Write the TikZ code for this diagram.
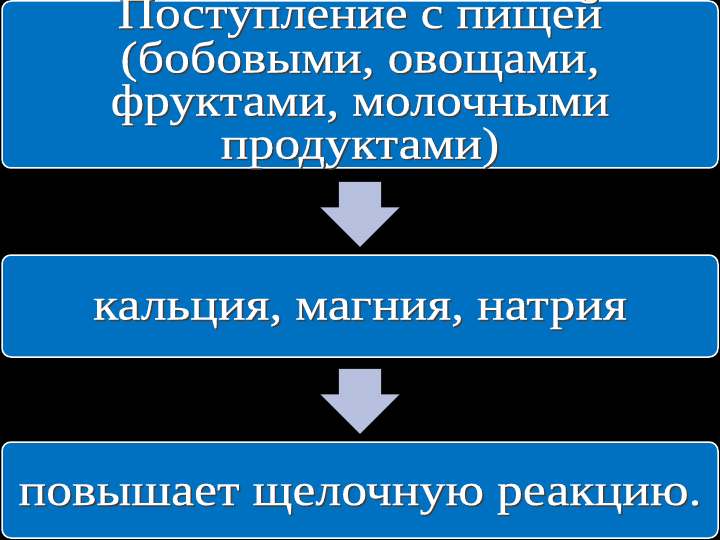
\documentclass[tikz,border=0pt]{standalone}
\usepackage{fontspec}
\setmainfont[FakeStretch=1.15,FakeBold=0.4]{Liberation Serif}
\usetikzlibrary{positioning,shapes.arrows}
\definecolor{boxblue}{RGB}{0,112,192}
\definecolor{arrowgray}{RGB}{182,192,222}
\newcommand\shadowed[1]{%
    \leavevmode\rlap{\kern1.5pt\raisebox{-1.5pt}{\color{black!75}#1}}#1%
}
\tikzset{
    stagebox/.style={draw=white, line width=1.5pt, fill=boxblue, rounded corners=9pt,
        minimum width=716pt, inner sep=0pt},
    stagetext/.style={text=white, align=center, inner sep=0pt,
        font=\fontsize{45}{43}\selectfont},
    downarrow/.style={single arrow, fill=arrowgray, draw=none, shape border rotate=270,
        inner sep=21pt, single arrow head extend=18.5pt, minimum height=65pt}
}

\begin{document}
\begin{tikzpicture}[x=1pt,y=-1pt]
\fill[black] (0,0) rectangle (720,540); % background
\useasboundingbox (0,0) rectangle (720,540);
\node[stagebox, minimum height=167pt] (food) at (360,84.5) {};
\node[stagetext, yshift=1pt] (foodtext) at (food)
    {\shadowed{Поступление с пищей}\\\shadowed{(бобовыми, овощами,}\\
     \shadowed{фруктами, молочными}\\\shadowed{продуктами)}};
\node[stagebox, stagetext, minimum height=102pt, text height=37pt, text depth=10pt]
    (minerals) at (360,306) {\shadowed{кальция, магния, натрия}};
\node[stagebox, stagetext, minimum height=96pt, text height=40pt, text depth=10pt]
    (reaction) at (360,490) {\shadowed{повышает щелочную реакцию.}};

\node[downarrow, below=13pt of food] (arrA) {};
\node[downarrow, below=11pt of minerals] (arrB) {};

\end{tikzpicture}
\end{document}
